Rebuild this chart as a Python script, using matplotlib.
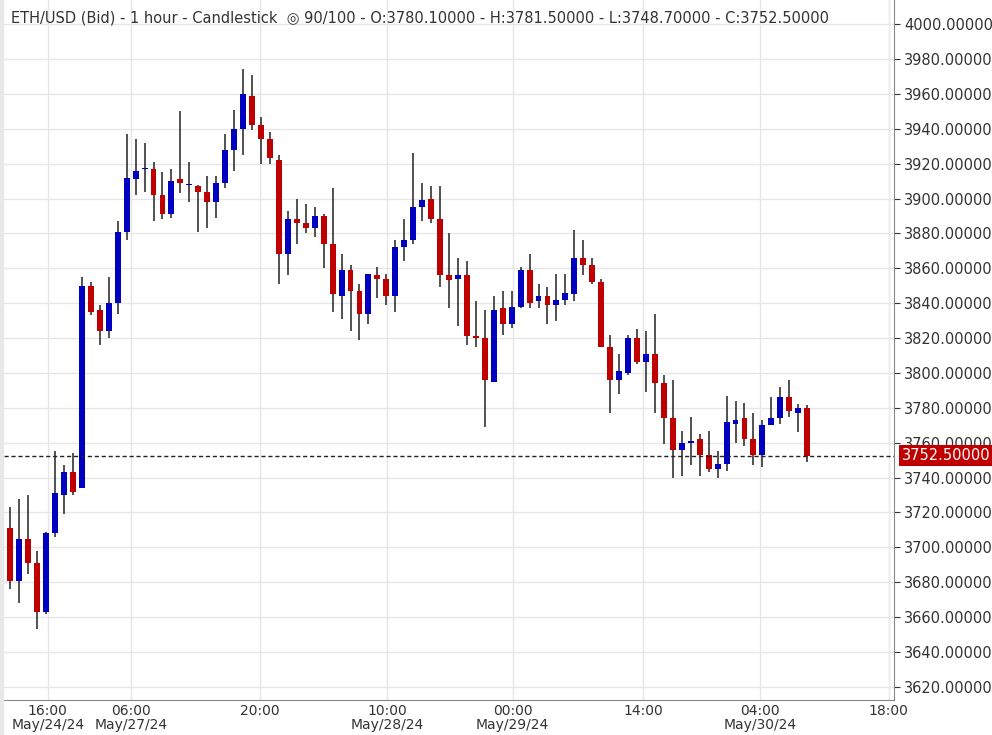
import matplotlib
matplotlib.use("Agg")
import matplotlib.pyplot as plt
from matplotlib.patches import Rectangle

opens = [3711,3681,3705,3691,3663,3708,3730,3743,3734,3850,3836,3824,3840,3881,3911,3917,3917,3902,3891,3911,3908,3907,3904,3898,3909,3928,3940,3959,3942,3934,
         3922,3868,3888,3886,3883,3890,3874,3844,3859,3847,3834,3856,3854,3844,3872,3876,3895,3900,3888,3856,3854,3856,3821,3820,3795,3837,3828,3838,3859,3841,
         3844,3839,3842,3845,3866,3862,3852,3815,3796,3800,3820,3806,3811,3794,3774,3756,3760,3762,3753,3745,3748,3771,3774,3762,3753,3770,3774,3786,3777,3780.1]
closes = [3681,3705,3691,3663,3708,3731,3743,3732,3850,3835,3824,3840,3881,3912,3916,3917.5,3902,3891,3910,3909,3908,3904,3898,3909,3928,3940,3960,3942,3934,3923,
          3868,3888,3886,3883,3890,3874,3845,3859,3847,3834,3857,3854,3844,3872,3876,3895,3899,3888,3856,3853,3856,3821,3820,3796,3836,3828,3838,3859,3840,3844,
          3839,3842,3846,3866,3862,3852,3815,3796,3801,3820,3806,3811,3794,3774,3756,3760,3761,3753,3745,3748,3772,3773,3762,3753,3770,3774,3786,3778,3780,3752.5]
highs = [3723,3728,3730,3698,3709,3755,3747,3754,3855,3852,3839,3855,3887,3937,3934,3932,3921,3915,3917,3950,3921,3908,3913,3913,3937,3951,3974,3971,3947,3938,
         3925,3893,3900,3897,3895,3891,3906,3868,3862,3851,3857,3861,3857,3876,3888,3926,3909,3907,3907,3880,3866,3864,3841,3836,3844,3847,3847,3861,3868,3851,
         3849,3857,3857,3882,3876,3866,3854,3822,3811,3822,3825,3824,3834,3799,3796,3767,3775,3765,3767,3755,3787,3784,3783,3777,3773,3786,3792,3796,3782,3781.5]
lows = [3676,3668,3685,3653,3662,3706,3719,3730,3734,3833,3816,3820,3834,3876,3902,3904,3887,3888,3889,3903,3898,3881,3883,3889,3906,3916,3925,3939,3920,3920,
        3851,3856,3874,3880,3878,3860,3835,3831,3824,3819,3828,3843,3839,3835,3864,3874,3887,3886,3849,3837,3827,3816,3815,3769,3795,3822,3826,3837,3837,3837,
        3828,3830,3839,3841,3856,3851,3815,3777,3788,3799,3805,3789,3777,3759,3740,3741,3747,3741,3743,3740,3744,3760,3758,3747,3746,3771,3771,3775,3766,3748.7]
tick_pos = [4.2, 13.5, 27.9, 42.1, 56.1, 70.7, 83.7, 98.1]
tick_labels = ["16:00\nMay/24/24", "06:00\nMay/27/24", "20:00", "10:00\nMay/28/24",
               "00:00\nMay/29/24", "14:00", "04:00\nMay/30/24", "18:00"]
y_ticks = list(range(3620, 4001, 20))
last_price = 3752.5

fig = plt.figure(figsize=(9.92, 7.35), dpi=100)
ax = fig.add_axes([4/992, 35/735, 890/992, 700/735])
for i, (o, c, h, l) in enumerate(zip(opens, closes, highs, lows)):
    col = "#0000c0" if c >= o else "#c00000"
    ax.vlines(i, l, h, color="#333333", lw=1.2, zorder=2)
    b = max(abs(c - o), 0.6)
    ax.add_patch(Rectangle((i - 0.33, min(o, c)), 0.66, b, facecolor=col, edgecolor="none", zorder=3))

ax.set_xlim(-0.7, 98.7)
ax.set_ylim(3612.5, 4013.8)
ax.set_yticks(y_ticks)
ax.set_yticklabels([f"{v:.5f}" for v in y_ticks])
ax.yaxis.tick_right()
ax.set_xticks(tick_pos)
ax.set_xticklabels(tick_labels, linespacing=1.0)
ax.tick_params(axis="y", labelsize=10.5, colors="#333333", length=4)
ax.tick_params(axis="x", labelsize=10, colors="#333333", length=0, pad=3)
ax.grid(True, color="#e6e6e6", lw=1)
ax.set_axisbelow(True)
for s in ["top", "left"]:
    ax.spines[s].set_visible(False)
ax.spines["right"].set_color("#888888")
ax.spines["bottom"].set_color("#888888")
ax.axhline(last_price, color="#222222", ls=(0, (3, 2)), lw=1, zorder=4)
ax.annotate(f"{last_price:.5f}", xy=(1.0, last_price), xycoords=("axes fraction", "data"),
            xytext=(6, 0), textcoords="offset points", va="center", ha="left", fontsize=10.5,
            color="white", bbox=dict(boxstyle="square,pad=0.2", fc="#c00000", ec="none"))
ax.text(0.008, 0.985, "ETH/USD (Bid) - 1 hour - Candlestick  \u25ce 90/100 - O:3780.10000 - H:3781.50000 - L:3748.70000 - C:3752.50000",
        transform=ax.transAxes, fontsize=10.5, color="#333333", va="top", ha="left")
fig.patches.append(Rectangle((0, 0), 3/992, 1, transform=fig.transFigure, color="#e8e8e8"))
fig.savefig("out.png", dpi=100)
